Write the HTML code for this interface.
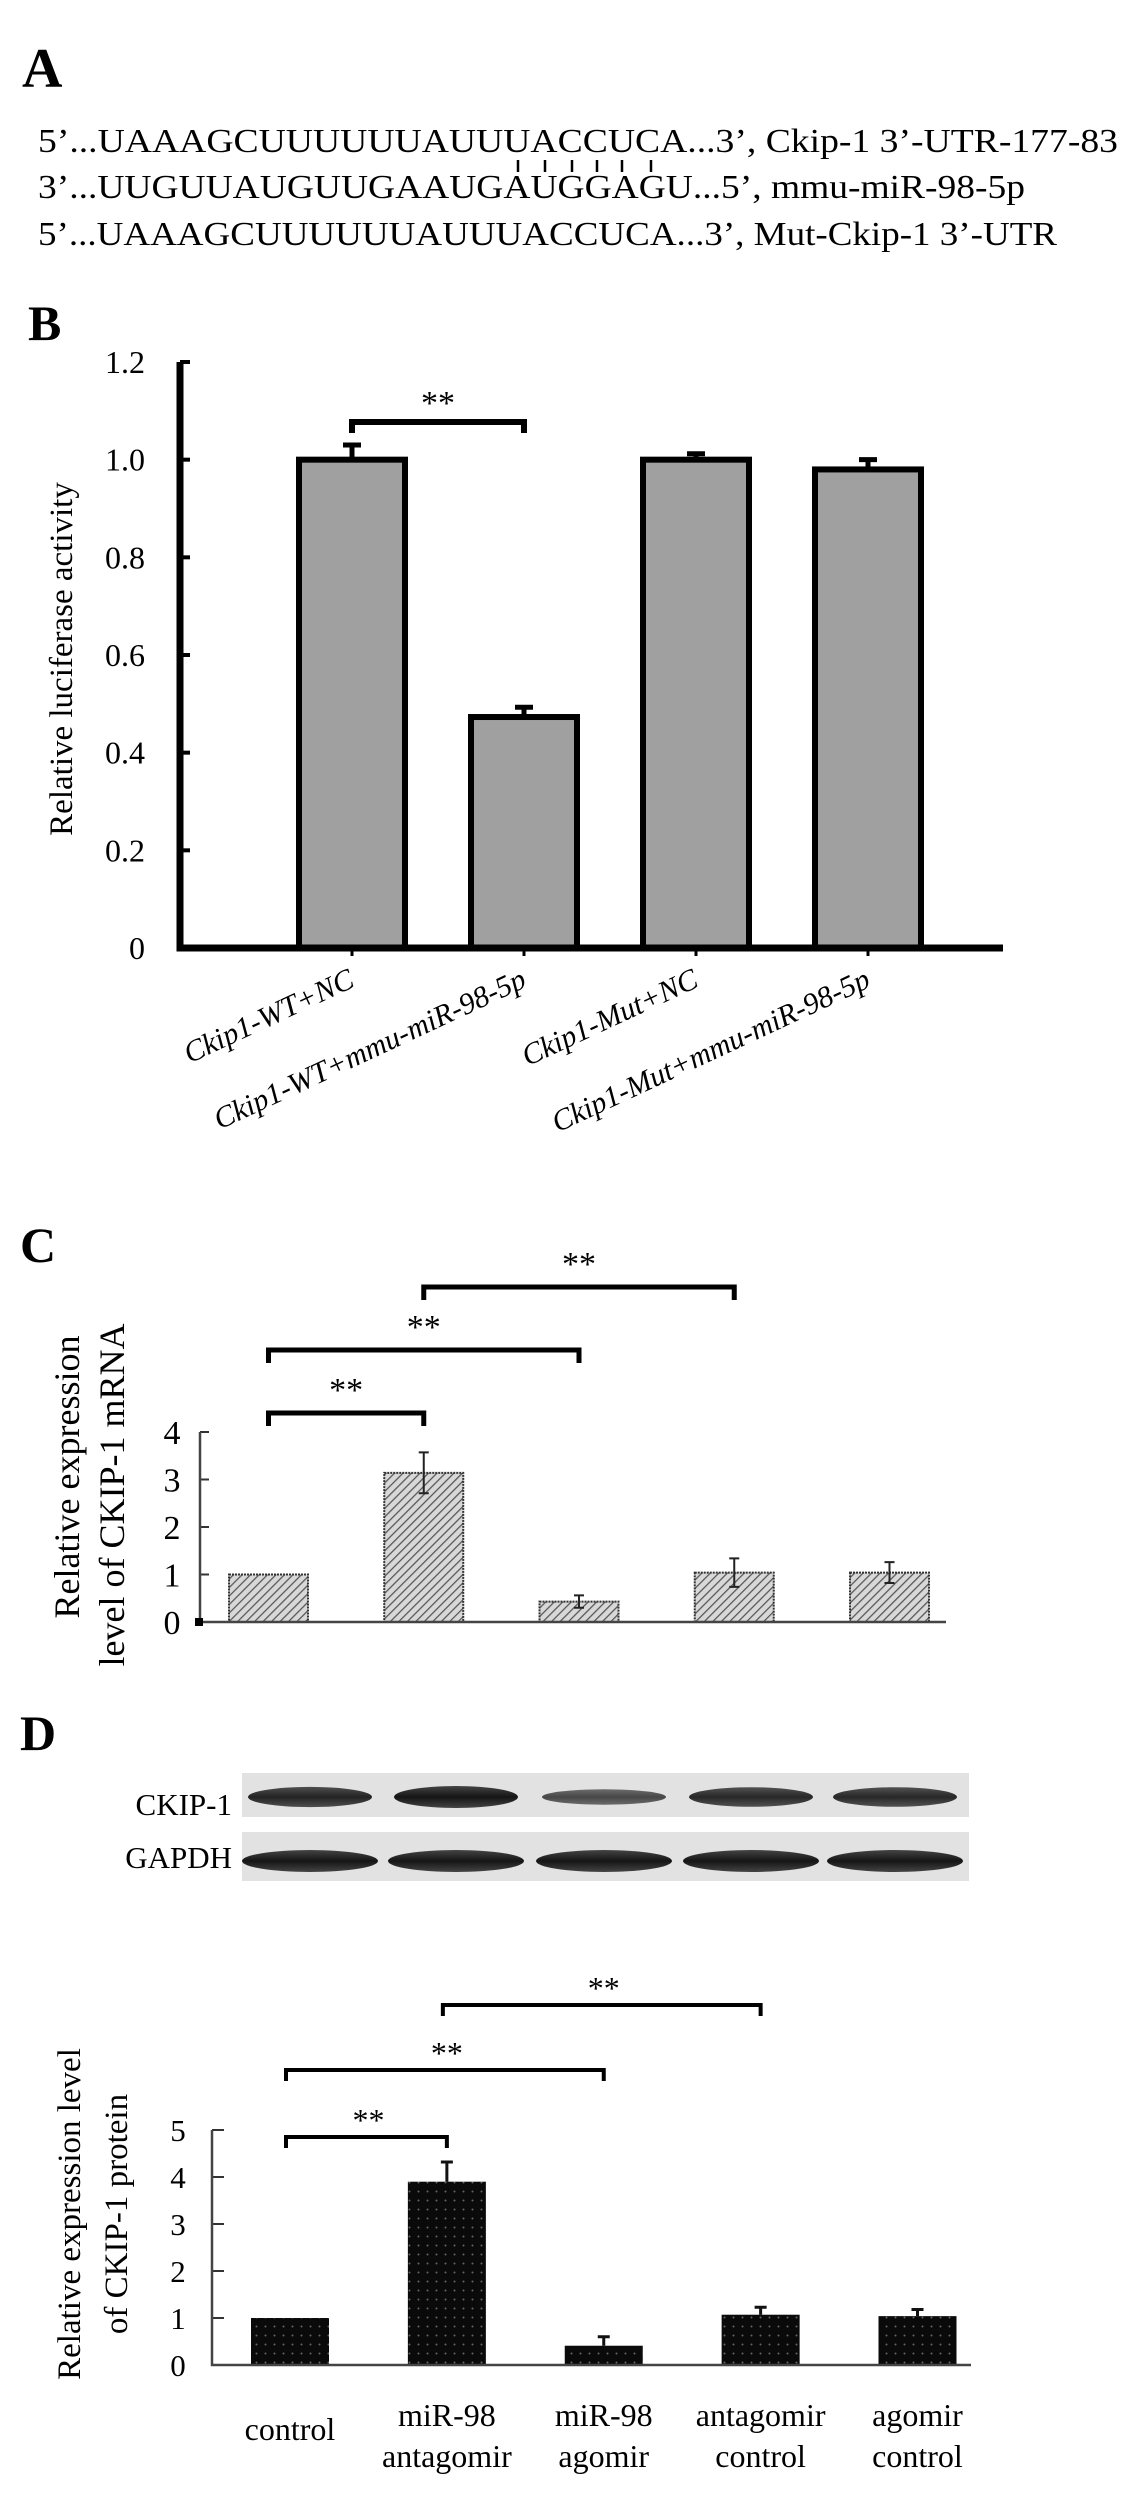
<!DOCTYPE html>
<html><head><meta charset="utf-8">
<style>
html,body{margin:0;padding:0;background:#fff;}
svg{display:block;font-family:"Liberation Serif",serif;}
</style></head>
<body>
<svg id="fig" width="1128" height="2503" viewBox="0 0 1128 2503" xmlns="http://www.w3.org/2000/svg">
<defs>
<pattern id="hatch" width="6" height="6" patternUnits="userSpaceOnUse" patternTransform="rotate(45)">
<rect width="6" height="6" fill="#d8d8d8"/><line x1="0" y1="0" x2="0" y2="6" stroke="#555" stroke-width="2.5"/>
</pattern>
<pattern id="dots" width="9" height="9" patternUnits="userSpaceOnUse">
<rect width="9" height="9" fill="#0a0a0a"/><circle cx="4.5" cy="4.5" r="1" fill="#666"/>
</pattern>
<linearGradient id="band" x1="0" y1="0" x2="0" y2="1"><stop offset="0" stop-color="#444"/><stop offset="0.5" stop-color="#151515"/><stop offset="1" stop-color="#444"/></linearGradient>
</defs>

<!-- Panel A -->
<text x="22" y="87" font-size="56" font-weight="bold">A</text>
<g font-size="34">
<text x="38" y="152" textLength="1080" lengthAdjust="spacingAndGlyphs">5’...UAAAGCUUUUUUAUUUACCUCA...3’, Ckip-1 3’-UTR-177-83</text>
<text x="38" y="198" textLength="987" lengthAdjust="spacingAndGlyphs">3’...UUGUUAUGUUGAAUGAUGGAGU...5’, mmu-miR-98-5p</text>
<text x="38" y="245" textLength="1019" lengthAdjust="spacingAndGlyphs">5’...UAAAGCUUUUUUAUUUACCUCA...3’, Mut-Ckip-1 3’-UTR</text>
<g stroke="#000" stroke-width="2.5">
<line x1="518" y1="160" x2="518" y2="172"/><line x1="545" y1="160" x2="545" y2="172"/><line x1="572" y1="160" x2="572" y2="172"/><line x1="597" y1="160" x2="597" y2="172"/><line x1="622" y1="160" x2="622" y2="172"/><line x1="651" y1="160" x2="651" y2="172"/>
</g>
</g>

<!-- Panel B -->
<text x="28" y="340" font-size="50" font-weight="bold">B</text>
<g id="chartB"></g>

<!-- Panel C -->
<text x="20" y="1262" font-size="50" font-weight="bold">C</text>
<g id="chartC"></g>

<!-- Panel D -->
<text x="20" y="1750" font-size="50" font-weight="bold">D</text>
<g>
<text x="232" y="1815" font-size="31" text-anchor="end">CKIP-1</text>
<text x="232" y="1868" font-size="31" text-anchor="end">GAPDH</text>
<rect x="242" y="1773" width="727" height="44" fill="#e2e2e2"/>
<rect x="242" y="1832" width="727" height="49" fill="#e2e2e2"/>
<g id="bands"></g>
</g>
<g id="chartD"></g>
</svg>

<script>
const NS="http://www.w3.org/2000/svg";
function mk(parent,tag,attrs,text){const e=document.createElementNS(NS,tag);for(const k in attrs)e.setAttribute(k,attrs[k]);if(text!==undefined)e.textContent=text;parent.appendChild(e);return e;}

// ---- Panel B data ----
const bCategories=["Ckip1-WT+NC","Ckip1-WT+mmu-miR-98-5p","Ckip1-Mut+NC","Ckip1-Mut+mmu-miR-98-5p"];
const bValues=[1.0,0.473,1.0,0.98];
const bErrors=[0.03,0.02,0.012,0.02];
const bTicks=["0","0.2","0.4","0.6","0.8","1.0","1.2"];
const bTickValues=[0,0.2,0.4,0.6,0.8,1.0,1.2];

// ---- Panel C data ----
const cCategories=["control","miR-98 antagomir","miR-98 agomir","antagomir control","agomir control"];
const cValues=[1.0,3.14,0.43,1.04,1.04];
const cErrors=[0,0.43,0.13,0.3,0.22];
const cTickValues=[0,1,2,3,4];

// ---- Panel D data ----
const dCategories=[["control"],["miR-98","antagomir"],["miR-98","agomir"],["antagomir","control"],["agomir","control"]];
const dValues=[1.0,3.9,0.41,1.07,1.04];
const dErrors=[0,0.42,0.19,0.16,0.14];
const dTickValues=[0,1,2,3,4,5];
const ckipBand=[0.85,1.0,0.45,0.8,0.8];
const gapdhBand=[1.0,1.0,1.0,1.0,1.0];

// ===== Chart B =====
(function(){
const g=document.getElementById('chartB');
const x0=180,x1=1003,y0=948,yTop=362,vmax=1.2;
const y=v=>y0-(v/vmax)*(y0-yTop);
const bw=106,first=352,step=(868-352)/3;
const cx=i=>first+i*step;
bTickValues.forEach((v,i)=>{
 const t=mk(g,'text',{x:145,y:y(v)+11,'font-size':32,'text-anchor':'end'},bTicks[i]);
 
 
 const l=mk(g,'line',{x1:x0,x2:x0+10,y1:y(v),y2:y(v),stroke:'#000','stroke-width':4});
 
 
});
bValues.forEach((v,i)=>{
 const r=mk(g,'rect',{x:cx(i)-bw/2,y:y(v),width:bw,height:y0-y(v),fill:'#a0a0a0',stroke:'#000','stroke-width':6});
 
 
 const e=mk(g,'path',{d:`M${cx(i)} ${y(v)} V${y(v+bErrors[i])} M${cx(i)-9} ${y(v+bErrors[i])} H${cx(i)+9}`,stroke:'#000','stroke-width':5,fill:'none'});
 
 
 const t=mk(g,'text',{x:0,y:0,'font-size':30,'font-style':'italic','text-anchor':'end',transform:`translate(${cx(i)+4},${y0+38}) rotate(-25)`},bCategories[i]);
 
 
 const tk=mk(g,'line',{x1:cx(i),x2:cx(i),y1:y0,y2:y0+8,stroke:'#000','stroke-width':3});
 
 
});
const ax=mk(g,'path',{d:`M${x0} ${yTop} V${y0} H${x1}`,stroke:'#000','stroke-width':7,fill:'none'});


const br=mk(g,'path',{d:`M${cx(0)} 433 V422 H${cx(1)} V433`,stroke:'#000','stroke-width':6,fill:'none'});


const s=mk(g,'text',{x:(cx(0)+cx(1))/2,y:414,'font-size':34,'text-anchor':'middle'},'**');


const yt=mk(g,'text',{x:0,y:0,'font-size':33,'text-anchor':'middle',transform:'translate(72,659) rotate(-90)'},'Relative luciferase activity');


})();

// ===== Chart C =====
(function(){
const g=document.getElementById('chartC');
const x0=200,x1=946,y0=1622,yTop=1432,vmax=4;
const y=v=>y0-(v/vmax)*(y0-yTop);
const bw=79,first=268.5,step=(889.5-268.5)/4;
const cx=i=>first+i*step;
cTickValues.forEach(v=>{
 const t=mk(g,'text',{x:172,y:y(v)+12,'font-size':34,'text-anchor':'middle'},String(v));
 
 
 const l=mk(g,'line',{x1:x0,x2:x0+9,y1:y(v),y2:y(v),stroke:'#333','stroke-width':2});
 
 
});
cValues.forEach((v,i)=>{
 const r=mk(g,'rect',{x:cx(i)-bw/2,y:y(v),width:bw,height:y0-y(v),fill:'url(#hatch)',stroke:'#333','stroke-width':2,'stroke-dasharray':'2 1'});
 
 
 if(cErrors[i]>0){
  const e=mk(g,'path',{d:`M${cx(i)} ${y(v-cErrors[i])} V${y(v+cErrors[i])} M${cx(i)-5} ${y(v+cErrors[i])} H${cx(i)+5} M${cx(i)-5} ${y(v-cErrors[i])} H${cx(i)+5}`,stroke:'#222','stroke-width':2,fill:'none'});
  
  
 }
});
const ax=mk(g,'path',{d:`M${x0} ${yTop} V${y0} H${x1}`,stroke:'#444','stroke-width':2.5,fill:'none'});


const sq=mk(g,'rect',{x:x0-5,y:y0-4,width:8,height:8,fill:'#000'});


[[0,1,1413],[0,2,1350],[1,3,1287]].forEach(b=>{
 const p=mk(g,'path',{d:`M${cx(b[0])} ${b[2]+13} V${b[2]} H${cx(b[1])} V${b[2]+13}`,stroke:'#000','stroke-width':5,fill:'none'});
 
 
 const s=mk(g,'text',{x:(cx(b[0])+cx(b[1]))/2,y:b[2]-12,'font-size':34,'text-anchor':'middle'},'**');
 
 
});
const t1=mk(g,'text',{x:0,y:0,'font-size':36,'text-anchor':'middle',transform:'translate(79,1477) rotate(-90)'},'Relative expression');


const t2=mk(g,'text',{x:0,y:0,'font-size':36,'text-anchor':'middle',transform:'translate(124,1495) rotate(-90)'},'level of CKIP-1 mRNA');


})();

// ===== Western blot bands =====
(function(){
const g=document.getElementById('bands');
const centers=[310,456,604,751,895];
ckipBand.forEach((s,i)=>{
 const e=mk(g,'ellipse',{cx:centers[i],cy:1797,rx:62,ry:5+6*s,fill:'url(#band)',opacity:0.55+0.45*s});
 
 
});
gapdhBand.forEach((s,i)=>{
 const e=mk(g,'ellipse',{cx:centers[i],cy:1861,rx:68,ry:11*s,fill:'url(#band)'});
 
 
});
})();

// ===== Chart D =====
(function(){
const g=document.getElementById('chartD');
const x0=212,x1=971,y0=2365,yTop=2130,vmax=5;
const y=v=>y0-(v/vmax)*(y0-yTop);
const bw=78,first=290,step=(917.5-290)/4;
const cx=i=>first+i*step;
dTickValues.forEach(v=>{
 const t=mk(g,'text',{x:178,y:y(v)+11,'font-size':31,'text-anchor':'middle'},String(v));
 
 
 const l=mk(g,'line',{x1:x0,x2:x0+12,y1:y(v),y2:y(v),stroke:'#333','stroke-width':2});
 
 
});
dValues.forEach((v,i)=>{
 const r=mk(g,'rect',{x:cx(i)-bw/2,y:y(v),width:bw,height:y0-y(v),fill:'url(#dots)'});
 
 
 if(dErrors[i]>0){
  const e=mk(g,'path',{d:`M${cx(i)} ${y(v)} V${y(v+dErrors[i])} M${cx(i)-6} ${y(v+dErrors[i])} H${cx(i)+6}`,stroke:'#111','stroke-width':3,fill:'none'});
  
  
 }
 const lines=dCategories[i];
 lines.forEach((ln,j)=>{
  const yy=lines.length===1?2440:2426+j*41;
  const t=mk(g,'text',{x:cx(i),y:yy,'font-size':32,'text-anchor':'middle'},ln);
  
  
 });
});
const ax=mk(g,'path',{d:`M${x0} ${yTop} V${y0} H${x1}`,stroke:'#444','stroke-width':2.5,fill:'none'});


[[0,1,2137],[0,2,2070],[1,3,2005]].forEach(b=>{
 const p=mk(g,'path',{d:`M${cx(b[0])-4} ${b[2]+11} V${b[2]} H${cx(b[1])} V${b[2]+11}`,stroke:'#000','stroke-width':4,fill:'none'});
 
 
 const s=mk(g,'text',{x:(cx(b[0])+cx(b[1]))/2,y:b[2]-6,'font-size':32,'text-anchor':'middle'},'**');
 
 
});
const t1=mk(g,'text',{x:0,y:0,'font-size':33,'text-anchor':'middle',transform:'translate(80,2214) rotate(-90)'},'Relative expression level');


const t2=mk(g,'text',{x:0,y:0,'font-size':33,'text-anchor':'middle',transform:'translate(127,2214) rotate(-90)'},'of CKIP-1 protein');


})();
</script>
</body></html>
